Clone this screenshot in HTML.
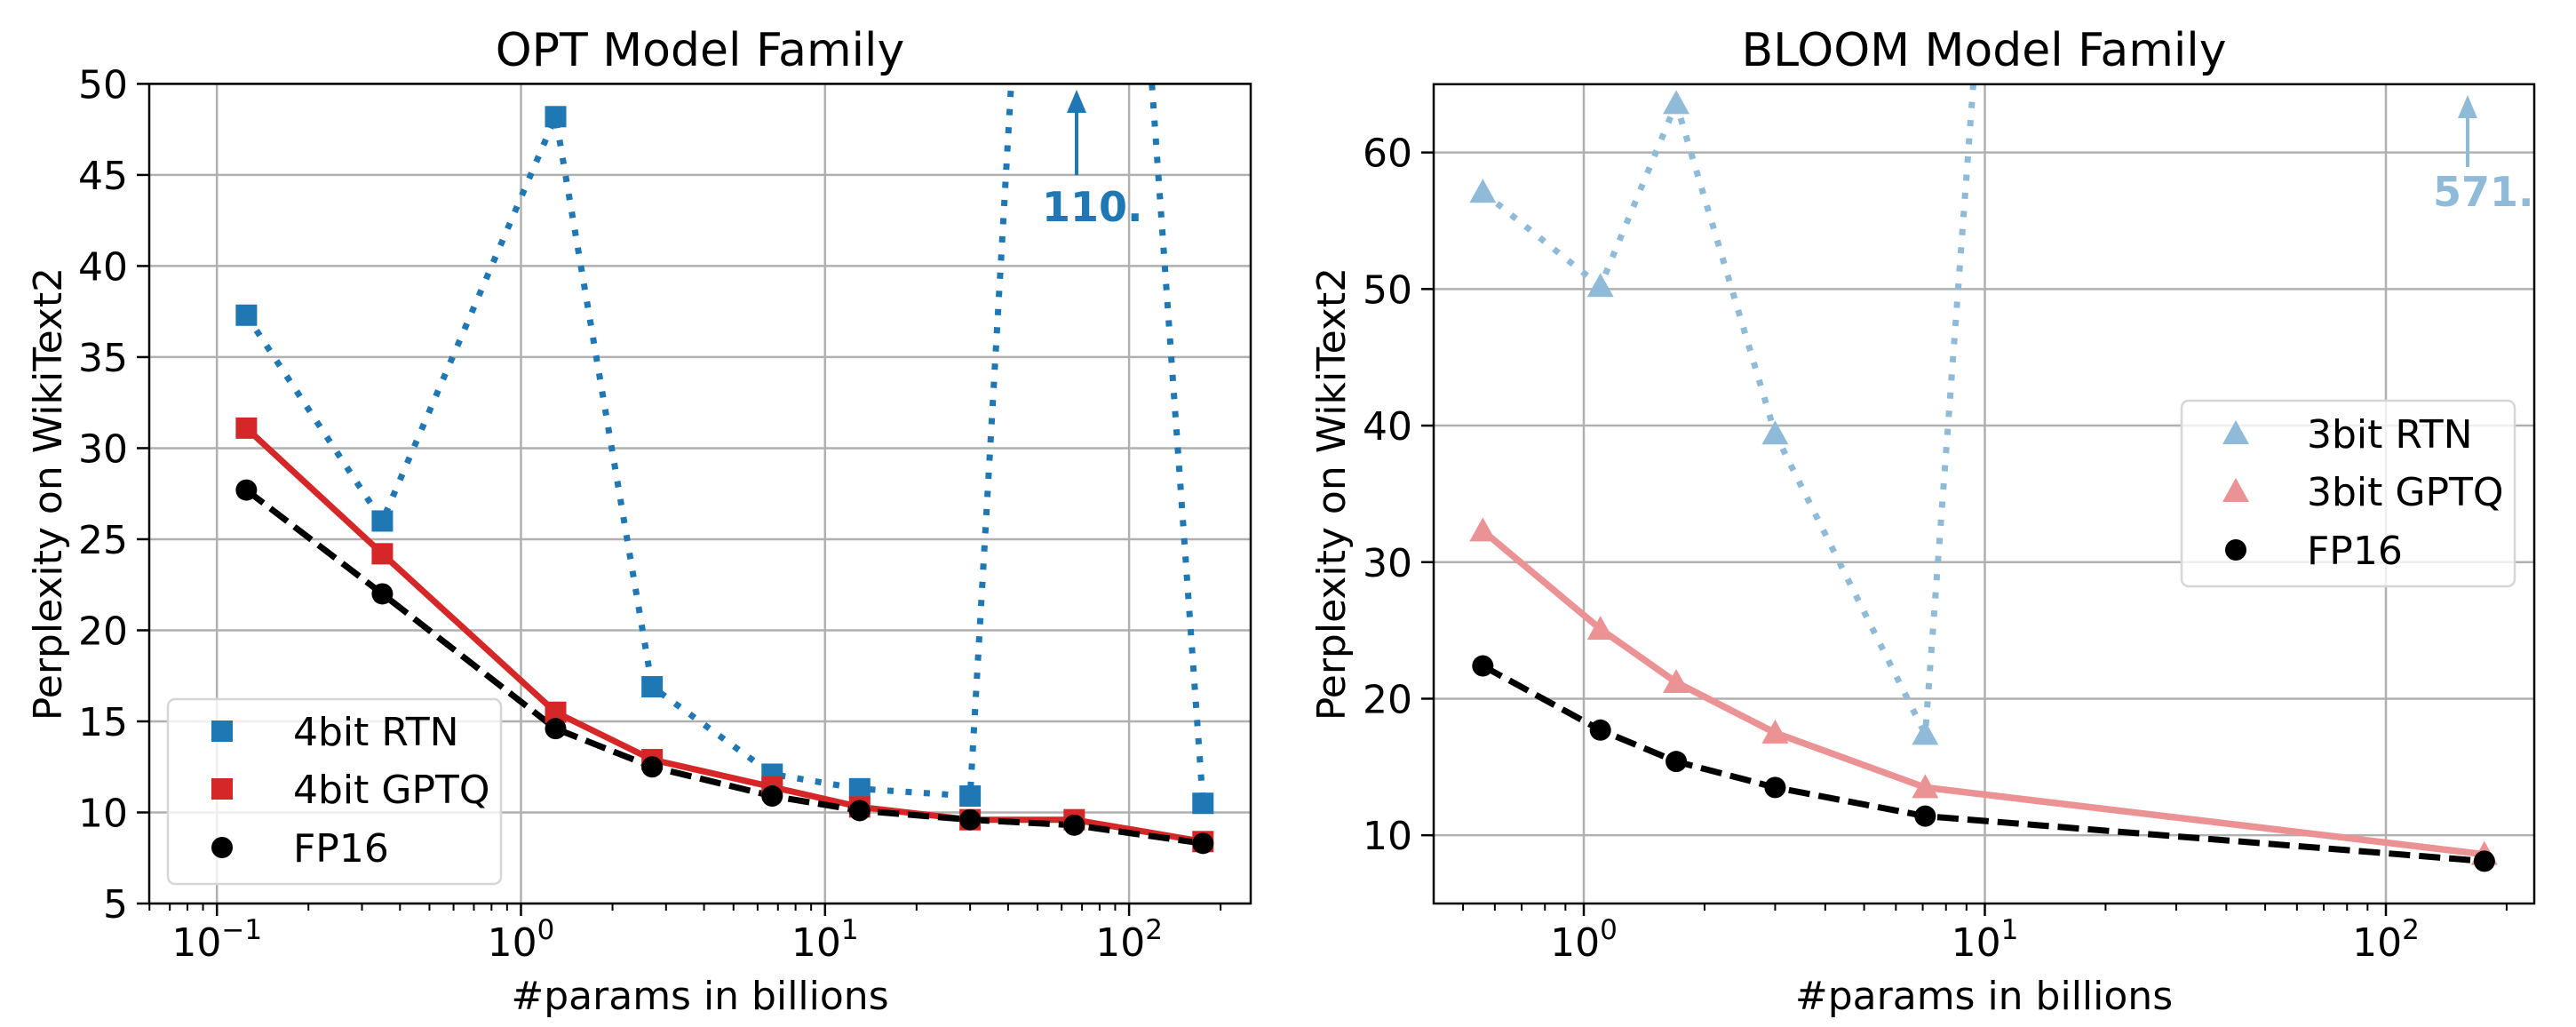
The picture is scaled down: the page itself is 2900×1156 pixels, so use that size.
<!DOCTYPE html>
<html><head><meta charset="utf-8"><style>
html,body{margin:0;padding:0;background:#fff;width:2900px;height:1156px;overflow:hidden}
svg text{font-family:"DejaVu Sans","Liberation Sans",sans-serif}
</style></head><body>
<svg id="s" width="2900" height="1156" xmlns="http://www.w3.org/2000/svg"></svg>
<script>
const S=document.getElementById('s');let h='';
function ax(o){
 const {L,R,T,B,d0,x0,dec,ymin,ymax,yt,xd,xmin,xmax}=o;
 const X=v=>x0+(Math.log10(v)-d0)*dec, Y=v=>B-(v-ymin)/(ymax-ymin)*(B-T);
 o.X=X;o.Y=Y;
 let g='';
 for(const t of yt){g+=`<line x1="${L}" x2="${R}" y1="${Y(t)}" y2="${Y(t)}" stroke="#b0b0b0" stroke-width="2.5"/>`;}
 for(const e of xd){g+=`<line x1="${X(10**e)}" x2="${X(10**e)}" y1="${T}" y2="${B}" stroke="#b0b0b0" stroke-width="2.5"/>`;}
 for(const t of yt){g+=`<line x1="${L-14}" x2="${L}" y1="${Y(t)}" y2="${Y(t)}" stroke="#000" stroke-width="2.5"/><text x="${L-24}" y="${Y(t)+16}" font-size="44" text-anchor="end">${t}</text>`;}
 for(const e of xd){const x=X(10**e);g+=`<line x1="${x}" x2="${x}" y1="${B}" y2="${B+14}" stroke="#000" stroke-width="2.5"/><text x="${x}" y="1076" font-size="44" text-anchor="middle">10<tspan font-size="31" dy="-19">${e<0?'−'+(-e):e}</tspan></text>`;}
 for(let e=-2;e<=3;e++)for(let m=2;m<10;m++){const v=m*10**e;if(v<xmin||v>xmax)continue;const x=X(v);g+=`<line x1="${x}" x2="${x}" y1="${B}" y2="${B+8}" stroke="#000" stroke-width="2"/>`;}
 return g;
}
function frame(o,title){const {L,R,T,B}=o;
 return `<rect x="${L}" y="${T}" width="${R-L}" height="${B-T}" fill="none" stroke="#000" stroke-width="2.5"/>
 <text x="${(L+R)/2}" y="74" font-size="52" text-anchor="middle">${title}</text>
 <text x="${(L+R)/2}" y="1136" font-size="44" text-anchor="middle">#params in billions</text>`;}
function ylab(x){return `<text transform="translate(${x},556) rotate(-90)" font-size="44" text-anchor="middle">Perplexity on WikiText2</text>`;}
function pts(o,xs,ys){return xs.map((x,i)=>`${o.X(x)},${o.Y(ys[i])}`).join(' ');}
function sq(x,y,c,s=24){return `<rect x="${x-s/2}" y="${y-s/2}" width="${s}" height="${s}" fill="${c}"/>`;}
function ci(x,y){return `<circle cx="${x}" cy="${y}" r="12" fill="#000"/>`;}
function tri(x,y,c,s=15){return `<polygon points="${x},${y-s} ${x-s},${y+s*0.8} ${x+s},${y+s*0.8}" fill="${c}"/>`;}

const A={L:168,R:1408,T:94.4,B:1017,d0:0,x0:586.5,dec:342.3,ymin:5,ymax:50,yt:[5,10,15,20,25,30,35,40,45,50],xd:[-1,0,1,2],xmin:0.06,xmax:250};
h+=ax(A);
const ox=[0.125,0.35,1.3,2.7,6.7,13,30,66,175];
const rtn=[37.3,26.0,48.2,16.9,12.1,11.3,10.9,110,10.5];
const gq=[31.1,24.2,15.5,12.9,11.4,10.3,9.6,9.6,8.4];
const fp=[27.7,22.0,14.6,12.5,10.9,10.1,9.6,9.3,8.3];
h+=`<clipPath id="ca"><rect x="${A.L}" y="${A.T}" width="${A.R-A.L}" height="${A.B-A.T}"/></clipPath><g clip-path="url(#ca)">`;
h+=`<polyline points="${pts(A,ox,rtn)}" fill="none" stroke="#1f77b4" stroke-width="7" stroke-dasharray="7,13.5"/>`;
h+=`<polyline points="${pts(A,ox,gq)}" fill="none" stroke="#d62728" stroke-width="7"/>`;
h+=`<polyline points="${pts(A,ox,fp)}" fill="none" stroke="#000" stroke-width="7" stroke-dasharray="24,10"/>`;
ox.forEach((x,i)=>{if(i!=7)h+=sq(A.X(x),A.Y(rtn[i]),'#1f77b4');});
ox.forEach((x,i)=>{h+=sq(A.X(x),A.Y(gq[i]),'#d62728');});
ox.forEach((x,i)=>{h+=ci(A.X(x),A.Y(fp[i]));});
h+=`</g>`;
h+=`<line x1="1212" x2="1212" y1="197" y2="125" stroke="#1f77b4" stroke-width="4"/><polygon points="1212,101 1201,127 1223,127" fill="#1f77b4"/>`;
h+=`<text x="1173" y="249" font-size="46" font-weight="bold" fill="#1f77b4">110.</text>`;
h+=frame(A,'OPT Model Family')+ylab(69);
h+=`<rect x="189" y="787" width="375" height="208" rx="8" fill="#fff" fill-opacity="0.8" stroke="#d6d6d6" stroke-width="2.5"/>`;
h+=sq(250,823,'#1f77b4')+sq(250,888,'#d62728')+ci(250,954);
h+=`<text x="330" y="839" font-size="44">4bit RTN</text><text x="330" y="904" font-size="44">4bit GPTQ</text><text x="330" y="970" font-size="44">FP16</text>`;

const B={L:1614,R:2853,T:94.8,B:1017,d0:0,x0:1783,dec:451.5,ymin:5,ymax:65,yt:[10,20,30,40,50,60],xd:[0,1,2],xmin:0.45,xmax:250};
h+=ax(B);
const bx=[0.56,1.1,1.7,3,7.1,176];
const br=[57.1,50.2,63.6,39.4,17.4,571];
const bg=[32.3,25.1,21.2,17.5,13.5,8.6];
const bf=[22.4,17.7,15.4,13.5,11.4,8.1];
const lb='#8fbbd9',lr='#eb9394';
h+=`<clipPath id="cb"><rect x="${B.L}" y="${B.T}" width="${B.R-B.L}" height="${B.B-B.T}"/></clipPath><g clip-path="url(#cb)">`;
h+=`<polyline points="${pts(B,bx,br)}" fill="none" stroke="${lb}" stroke-width="7" stroke-dasharray="7,13.5"/>`;
h+=`<polyline points="${pts(B,bx,bg)}" fill="none" stroke="${lr}" stroke-width="7.5"/>`;
h+=`<polyline points="${pts(B,bx,bf)}" fill="none" stroke="#000" stroke-width="7" stroke-dasharray="24,10"/>`;
bx.forEach((x,i)=>{if(i!=5)h+=tri(B.X(x),B.Y(br[i]),lb);});
bx.forEach((x,i)=>{h+=tri(B.X(x),B.Y(bg[i]),lr);});
bx.forEach((x,i)=>{h+=ci(B.X(x),B.Y(bf[i]));});
h+=`</g>`;
h+=`<line x1="2778" x2="2778" y1="188" y2="130" stroke="${lb}" stroke-width="4"/><polygon points="2778,107 2767,133 2789,133" fill="${lb}"/>`;
h+=`<text x="2739" y="232" font-size="46" font-weight="bold" fill="${lb}">571.</text>`;
h+=frame(B,'BLOOM Model Family')+ylab(1514);
h+=`<rect x="2456" y="451" width="375" height="209" rx="8" fill="#fff" fill-opacity="0.8" stroke="#d6d6d6" stroke-width="2.5"/>`;
h+=tri(2517,488,lb)+tri(2517,553,lr)+ci(2517,619);
h+=`<text x="2597" y="504" font-size="44">3bit RTN</text><text x="2597" y="569" font-size="44">3bit GPTQ</text><text x="2597" y="635" font-size="44">FP16</text>`;
S.innerHTML=h;
</script>
</body></html>
